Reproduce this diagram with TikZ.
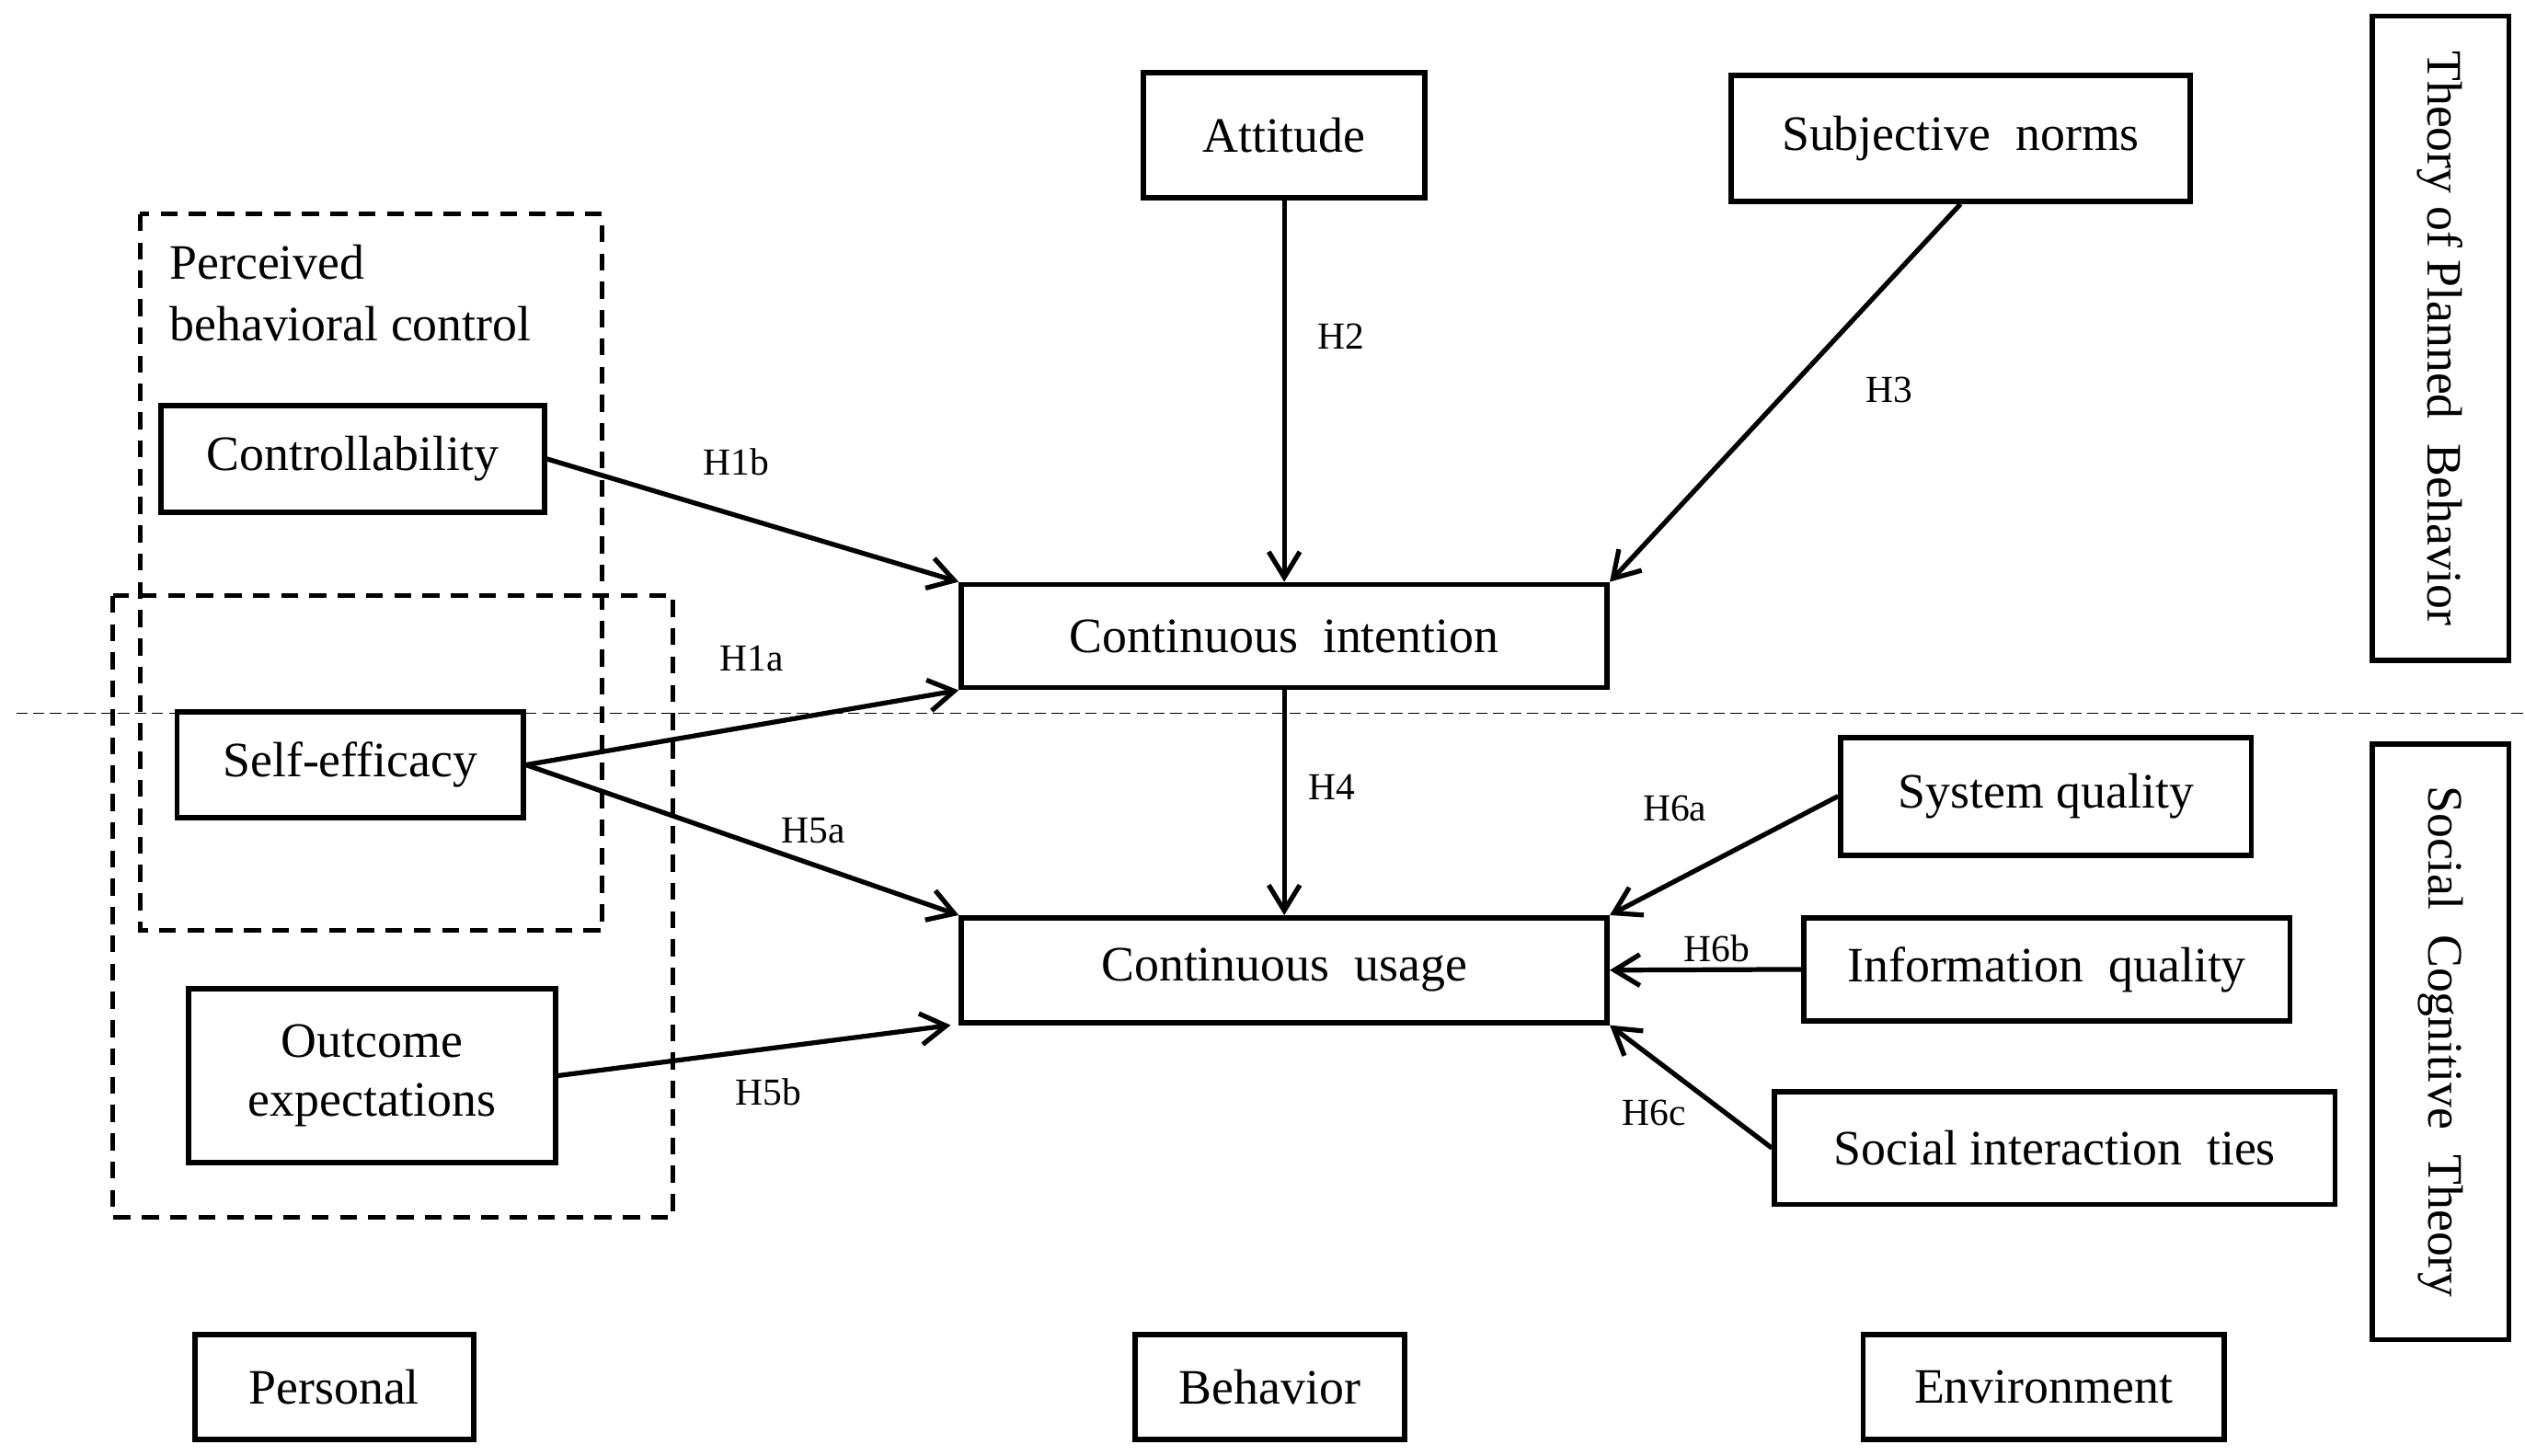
\documentclass[tikz,border=0pt]{standalone}
\usepackage{fontspec}
\setmainfont{Liberation Serif}
\usetikzlibrary{arrows.meta}
\begin{document}
\begin{tikzpicture}[x=0.02cm,y=-0.02cm,
  box/.style={draw,line width=1.9pt,inner sep=0pt,font=\fontsize{17.5}{21}\selectfont,align=center},
  dbox/.style={draw,line width=1.6pt,dash pattern=on 6pt off 4pt},
  arr/.style={line width=1.7pt,-{Straight Barb[length=9pt,width=11pt,line width=1.7pt]}},
  lab/.style={font=\fontsize{13.5}{15}\selectfont,inner sep=1pt}]
\useasboundingbox (0,0) rectangle (1568,904);
\newcommand\bx[6]{\node[box,minimum width={(#4-#2)*0.02cm},minimum height={(#5-#3)*0.02cm}] (#1) at ({(#2+#4)/2},{(#3+#5)/2}) {#6};}
\draw[line width=0.6pt,dash pattern=on 4pt off 2pt] (10,443) -- (1568,443);
\draw[dbox] (87,133) rectangle (374,578);
\draw[dbox] (70,370) rectangle (418,756);
\node[anchor=west,font=\fontsize{17.5}{21}\selectfont,inner sep=0pt] (pbc1) at (105,163) {Perceived};
\node[anchor=west,font=\fontsize{17.5}{21}\selectfont,inner sep=0pt] (pbc2) at (105,201) {behavioral control};
\bx{att}{710}{45}{885}{123}{Attitude}
\bx{sub}{1075}{47}{1360}{125}{Subjective\ \ norms}
\bx{ctrl}{100}{252}{338}{318}{Controllability}
\bx{se}{110}{442}{325}{508}{Self-efficacy}
\bx{oe}{117}{614}{345}{722}{Outcome\\expectations}
\bx{ci}{597}{363}{998}{427}{Continuous\ \ intention}
\bx{cu}{597}{570}{998}{635}{Continuous\ \ usage}
\bx{sq}{1143}{458}{1398}{531}{System quality}
\bx{iq}{1120}{570}{1422}{634}{Information\ \ quality}
\bx{st}{1102}{678}{1450}{748}{Social interaction\ \ ties}
\bx{per}{121}{829}{294}{894}{Personal}
\bx{beh}{705}{829}{872}{894}{Behavior}
\bx{env}{1157}{829}{1381}{894}{Environment}
\bx{tpb}{1473}{10}{1558}{410}{}
\bx{sct}{1473}{462}{1558}{832}{}
\node[rotate=-90,font=\fontsize{17.5}{21}\selectfont] (tpbt) at (tpb) {Theory\ of Planned\ \ Behavior};
\node[rotate=-90,font=\fontsize{17.5}{21}\selectfont] (sctt) at (sct) {Social\ \ Cognitive\ \ Theory};
\draw[arr] (att.south) -- (ci.north);
\draw[arr] (sub.south) -- (ci.north east);
\draw[arr] (ctrl.east) -- (ci.north west);
\draw[arr] (se.east) -- (ci.south west);
\draw[arr] (se.east) -- (cu.north west);
\draw[arr] (oe.east) -- ([xshift=-0.1cm]cu.south west);
\draw[arr] (ci.south) -- (cu.north);
\draw[arr] (sq.west) -- (cu.north east);
\draw[arr] (iq.west) -- (cu.east);
\draw[arr] (st.west) -- (cu.south east);
\node[lab] (h2) at (833,209) {H2};
\node[lab] (h3) at (1173,242) {H3};
\node[lab] (h1b) at (457,287) {H1b};
\node[lab] (h1a) at (467,409) {H1a};
\node[lab] (h5a) at (505,516) {H5a};
\node[lab] (h5b) at (477,678) {H5b};
\node[lab] (h4) at (827,489) {H4};
\node[lab] (h6a) at (1040,502) {H6a};
\node[lab] (h6b) at (1066,589) {H6b};
\node[lab] (h6c) at (1027,691) {H6c};
\end{tikzpicture}
\end{document}
